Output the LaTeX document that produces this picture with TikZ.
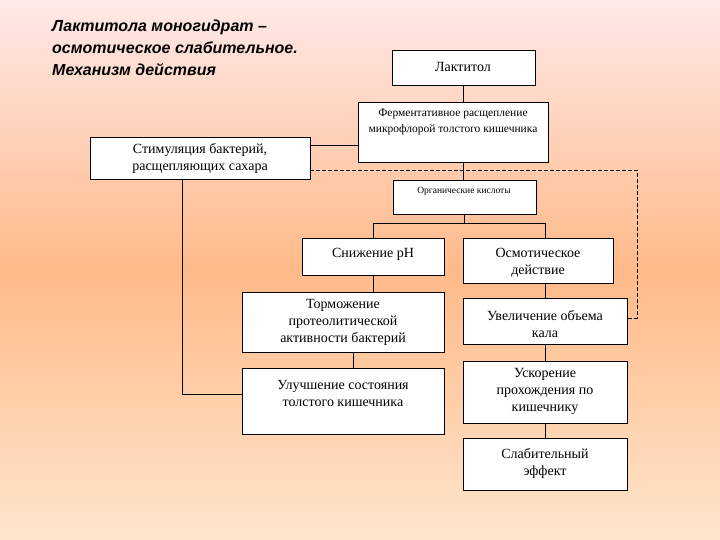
\documentclass[tikz,border=0pt]{standalone}
\usepackage{fontspec}
\setmainfont{Liberation Serif}
\newfontfamily\titlefont{Liberation Sans}
\begin{document}
\begin{tikzpicture}[x=1pt,y=-1pt,
  bx/.style={draw=black,fill=white,line width=0.6pt},
  ln/.style={draw=black,line width=0.6pt},
  tx/.style={align=center,font=\fontsize{14}{17}\selectfont,inner sep=0pt}]
\useasboundingbox (0,0) rectangle (720,540);
\shade[top color=pink!35!white, bottom color=orange!20!white, middle color=orange!55!pink!70!white] (0,0) rectangle (720,540);
\node[anchor=north west,align=left,font=\titlefont\bfseries\itshape\fontsize{16}{22}\selectfont,inner sep=0pt] (title) at (52,20) {Лактитола моногидрат –\\осмотическое слабительное.\\Механизм действия};
% boxes
\draw[bx] (392,50) rectangle (535,85); \node[tx] (lak) at (463,67) {Лактитол};
\draw[bx] (358,102) rectangle (548,162); \node[tx,font=\fontsize{11.5}{16}\selectfont] (fer) at (453,122) {Ферментативное расщепление\\микрофлорой толстого кишечника};
\draw[bx] (90,137) rectangle (310,179); \node[tx] (sti) at (200,158) {Стимуляция бактерий,\\расщепляющих сахара};
\draw[bx] (393,180) rectangle (536,214); \node[tx,font=\fontsize{9.5}{11}\selectfont] (org) at (464,191) {Органические кислоты};
\draw[bx] (302,238) rectangle (444,275); \node[tx] (snz) at (373,254) {Снижение рН};
\draw[bx] (463,238) rectangle (613,283); \node[tx] (osm) at (538,263) {Осмотическое\\действие};
\draw[bx] (242,292) rectangle (444,352); \node[tx] (tor) at (343,322) {Торможение\\протеолитической\\активности бактерий};
\draw[bx] (463,298) rectangle (627,344); \node[tx] (uvl) at (545,324) {Увеличение объема\\кала};
\draw[bx] (242,368) rectangle (444,434); \node[tx] (ulu) at (343,393) {Улучшение состояния\\толстого кишечника};
\draw[bx] (463,361) rectangle (627,423); \node[tx] (usk) at (545,391) {Ускорение\\прохождения по\\кишечнику};
\draw[bx] (463,438) rectangle (627,490); \node[tx] (sla) at (545,463) {Слабительный\\эффект};
% connectors
\draw[ln] (463,85) -- (463,102);
\draw[ln] (358,145) -- (310,145);
\draw[ln] (463,162) -- (463,180);
\draw[ln] (464,214) -- (464,223);
\draw[ln] (373,238) -- (373,223) -- (545,223) -- (545,238);
\draw[ln] (373,275) -- (373,292);
\draw[ln] (353,352) -- (353,368);
\draw[ln] (545,283) -- (545,298);
\draw[ln] (545,344) -- (545,361);
\draw[ln] (545,423) -- (545,438);
\draw[ln] (182,179) -- (182,394) -- (242,394);
\draw[ln,dash pattern=on 4pt off 2pt] (310,170) -- (637,170) -- (637,318) -- (627,318);
\end{tikzpicture}
\end{document}
